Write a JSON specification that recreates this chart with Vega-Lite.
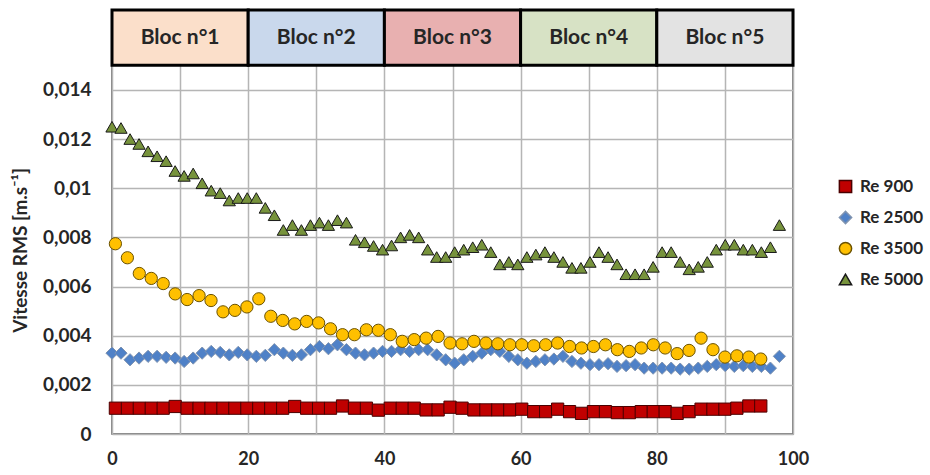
{
"$schema": "https://vega.github.io/schema/vega-lite/v6.json",
"width": 681,
"height": 424,
"autosize": {"type": "none"},
"padding": {"left": 112, "top": 10, "right": 137, "bottom": 41},
"background": "white",
"config": {"font": "Lato", "view": {"stroke": "#595959", "strokeWidth": 1.5}},
"datasets": {
"header": [
{"bloc": "Bloc n°1", "start": 0, "end": 20},
{"bloc": "Bloc n°2", "start": 20, "end": 40},
{"bloc": "Bloc n°3", "start": 40, "end": 60},
{"bloc": "Bloc n°4", "start": 60, "end": 80},
{"bloc": "Bloc n°5", "start": 80, "end": 100}
],
"points": [
{"s":"Re 5000","x":0,"y":0.0125},{"s":"Re 5000","x":1.32,"y":0.01245},{"s":"Re 5000","x":2.65,"y":0.0120},{"s":"Re 5000","x":3.97,"y":0.0118},{"s":"Re 5000","x":5.30,"y":0.0115},{"s":"Re 5000","x":6.62,"y":0.0113},{"s":"Re 5000","x":7.95,"y":0.0111},{"s":"Re 5000","x":9.27,"y":0.0107},{"s":"Re 5000","x":10.59,"y":0.0105},{"s":"Re 5000","x":11.92,"y":0.0106},{"s":"Re 5000","x":13.24,"y":0.0102},{"s":"Re 5000","x":14.57,"y":0.0099},{"s":"Re 5000","x":15.89,"y":0.0098},{"s":"Re 5000","x":17.22,"y":0.0095},{"s":"Re 5000","x":18.54,"y":0.0096},{"s":"Re 5000","x":19.86,"y":0.0096},{"s":"Re 5000","x":21.19,"y":0.0096},{"s":"Re 5000","x":22.51,"y":0.0092},{"s":"Re 5000","x":23.84,"y":0.0089},{"s":"Re 5000","x":25.16,"y":0.0083},{"s":"Re 5000","x":26.49,"y":0.0085},{"s":"Re 5000","x":27.81,"y":0.0083},{"s":"Re 5000","x":29.14,"y":0.0085},{"s":"Re 5000","x":30.46,"y":0.0086},{"s":"Re 5000","x":31.78,"y":0.0085},{"s":"Re 5000","x":33.11,"y":0.0087},{"s":"Re 5000","x":34.43,"y":0.0086},{"s":"Re 5000","x":35.76,"y":0.0079},{"s":"Re 5000","x":37.08,"y":0.0078},{"s":"Re 5000","x":38.41,"y":0.00765},{"s":"Re 5000","x":39.73,"y":0.0075},{"s":"Re 5000","x":41.05,"y":0.00767},{"s":"Re 5000","x":42.38,"y":0.0080},{"s":"Re 5000","x":43.70,"y":0.0081},{"s":"Re 5000","x":45.03,"y":0.0080},{"s":"Re 5000","x":46.35,"y":0.0075},{"s":"Re 5000","x":47.68,"y":0.0072},{"s":"Re 5000","x":49.00,"y":0.0072},{"s":"Re 5000","x":50.32,"y":0.0074},{"s":"Re 5000","x":51.65,"y":0.0075},{"s":"Re 5000","x":52.97,"y":0.0076},{"s":"Re 5000","x":54.30,"y":0.0077},{"s":"Re 5000","x":55.62,"y":0.0074},{"s":"Re 5000","x":56.95,"y":0.0069},{"s":"Re 5000","x":58.27,"y":0.0070},{"s":"Re 5000","x":59.59,"y":0.0069},{"s":"Re 5000","x":60.92,"y":0.0072},{"s":"Re 5000","x":62.24,"y":0.0073},{"s":"Re 5000","x":63.57,"y":0.0074},{"s":"Re 5000","x":64.89,"y":0.0072},{"s":"Re 5000","x":66.22,"y":0.0070},{"s":"Re 5000","x":67.54,"y":0.00676},{"s":"Re 5000","x":68.86,"y":0.00676},{"s":"Re 5000","x":70.19,"y":0.0070},{"s":"Re 5000","x":71.51,"y":0.0074},{"s":"Re 5000","x":72.84,"y":0.0072},{"s":"Re 5000","x":74.16,"y":0.0069},{"s":"Re 5000","x":75.49,"y":0.0065},{"s":"Re 5000","x":76.81,"y":0.0065},{"s":"Re 5000","x":78.14,"y":0.0065},{"s":"Re 5000","x":79.46,"y":0.0068},{"s":"Re 5000","x":80.78,"y":0.0074},{"s":"Re 5000","x":82.11,"y":0.0074},{"s":"Re 5000","x":83.43,"y":0.0070},{"s":"Re 5000","x":84.76,"y":0.0067},{"s":"Re 5000","x":86.08,"y":0.0068},{"s":"Re 5000","x":87.41,"y":0.0070},{"s":"Re 5000","x":88.73,"y":0.0075},{"s":"Re 5000","x":90.05,"y":0.0077},{"s":"Re 5000","x":91.38,"y":0.0077},{"s":"Re 5000","x":92.70,"y":0.0075},{"s":"Re 5000","x":94.03,"y":0.0075},{"s":"Re 5000","x":95.35,"y":0.0074},{"s":"Re 5000","x":96.68,"y":0.0076},{"s":"Re 5000","x":98.00,"y":0.0085},
{"s":"Re 2500","x":0,"y":0.00329},{"s":"Re 2500","x":1.32,"y":0.00329},{"s":"Re 2500","x":2.65,"y":0.00302},{"s":"Re 2500","x":3.97,"y":0.00309},{"s":"Re 2500","x":5.30,"y":0.00316},{"s":"Re 2500","x":6.62,"y":0.00316},{"s":"Re 2500","x":7.95,"y":0.00312},{"s":"Re 2500","x":9.27,"y":0.00309},{"s":"Re 2500","x":10.59,"y":0.00295},{"s":"Re 2500","x":11.92,"y":0.00309},{"s":"Re 2500","x":13.24,"y":0.00329},{"s":"Re 2500","x":14.57,"y":0.00336},{"s":"Re 2500","x":15.89,"y":0.00332},{"s":"Re 2500","x":17.22,"y":0.00322},{"s":"Re 2500","x":18.54,"y":0.00332},{"s":"Re 2500","x":19.86,"y":0.00322},{"s":"Re 2500","x":21.19,"y":0.00316},{"s":"Re 2500","x":22.51,"y":0.0032},{"s":"Re 2500","x":23.84,"y":0.00343},{"s":"Re 2500","x":25.16,"y":0.00329},{"s":"Re 2500","x":26.49,"y":0.0032},{"s":"Re 2500","x":27.81,"y":0.00322},{"s":"Re 2500","x":29.14,"y":0.00343},{"s":"Re 2500","x":30.46,"y":0.00356},{"s":"Re 2500","x":31.78,"y":0.00347},{"s":"Re 2500","x":33.11,"y":0.00363},{"s":"Re 2500","x":34.43,"y":0.00343},{"s":"Re 2500","x":35.76,"y":0.00329},{"s":"Re 2500","x":37.08,"y":0.00322},{"s":"Re 2500","x":38.41,"y":0.00329},{"s":"Re 2500","x":39.73,"y":0.00336},{"s":"Re 2500","x":41.05,"y":0.00336},{"s":"Re 2500","x":42.38,"y":0.00343},{"s":"Re 2500","x":43.70,"y":0.00336},{"s":"Re 2500","x":45.03,"y":0.00343},{"s":"Re 2500","x":46.35,"y":0.00343},{"s":"Re 2500","x":47.68,"y":0.00322},{"s":"Re 2500","x":49.00,"y":0.00302},{"s":"Re 2500","x":50.32,"y":0.00288},{"s":"Re 2500","x":51.65,"y":0.00302},{"s":"Re 2500","x":52.97,"y":0.00316},{"s":"Re 2500","x":54.30,"y":0.00329},{"s":"Re 2500","x":55.62,"y":0.00343},{"s":"Re 2500","x":56.95,"y":0.00336},{"s":"Re 2500","x":58.27,"y":0.00316},{"s":"Re 2500","x":59.59,"y":0.00302},{"s":"Re 2500","x":60.92,"y":0.00288},{"s":"Re 2500","x":62.24,"y":0.00295},{"s":"Re 2500","x":63.57,"y":0.00302},{"s":"Re 2500","x":64.89,"y":0.00305},{"s":"Re 2500","x":66.22,"y":0.00316},{"s":"Re 2500","x":67.54,"y":0.00295},{"s":"Re 2500","x":68.86,"y":0.00288},{"s":"Re 2500","x":70.19,"y":0.00282},{"s":"Re 2500","x":71.51,"y":0.00282},{"s":"Re 2500","x":72.84,"y":0.00286},{"s":"Re 2500","x":74.16,"y":0.00275},{"s":"Re 2500","x":75.49,"y":0.00278},{"s":"Re 2500","x":76.81,"y":0.00282},{"s":"Re 2500","x":78.14,"y":0.00268},{"s":"Re 2500","x":79.46,"y":0.00268},{"s":"Re 2500","x":80.78,"y":0.00268},{"s":"Re 2500","x":82.11,"y":0.00268},{"s":"Re 2500","x":83.43,"y":0.00264},{"s":"Re 2500","x":84.76,"y":0.00264},{"s":"Re 2500","x":86.08,"y":0.00268},{"s":"Re 2500","x":87.41,"y":0.00275},{"s":"Re 2500","x":88.73,"y":0.00282},{"s":"Re 2500","x":90.05,"y":0.00278},{"s":"Re 2500","x":91.38,"y":0.00275},{"s":"Re 2500","x":92.70,"y":0.00278},{"s":"Re 2500","x":94.03,"y":0.00275},{"s":"Re 2500","x":95.35,"y":0.00275},{"s":"Re 2500","x":96.68,"y":0.00268},{"s":"Re 2500","x":98.00,"y":0.00316},
{"s":"Re 3500","x":0.5,"y":0.00774},{"s":"Re 3500","x":2.26,"y":0.00717},{"s":"Re 3500","x":4.01,"y":0.00653},{"s":"Re 3500","x":5.77,"y":0.00633},{"s":"Re 3500","x":7.52,"y":0.00612},{"s":"Re 3500","x":9.28,"y":0.0057},{"s":"Re 3500","x":11.03,"y":0.00547},{"s":"Re 3500","x":12.79,"y":0.00563},{"s":"Re 3500","x":14.54,"y":0.00543},{"s":"Re 3500","x":16.3,"y":0.00497},{"s":"Re 3500","x":18.05,"y":0.00503},{"s":"Re 3500","x":19.81,"y":0.00517},{"s":"Re 3500","x":21.56,"y":0.0055},{"s":"Re 3500","x":23.32,"y":0.00479},{"s":"Re 3500","x":25.07,"y":0.00462},{"s":"Re 3500","x":26.83,"y":0.00448},{"s":"Re 3500","x":28.58,"y":0.00458},{"s":"Re 3500","x":30.34,"y":0.00452},{"s":"Re 3500","x":32.09,"y":0.00428},{"s":"Re 3500","x":33.85,"y":0.00404},{"s":"Re 3500","x":35.6,"y":0.00404},{"s":"Re 3500","x":37.36,"y":0.00424},{"s":"Re 3500","x":39.11,"y":0.00422},{"s":"Re 3500","x":40.87,"y":0.00404},{"s":"Re 3500","x":42.62,"y":0.00377},{"s":"Re 3500","x":44.38,"y":0.00384},{"s":"Re 3500","x":46.13,"y":0.0039},{"s":"Re 3500","x":47.89,"y":0.00397},{"s":"Re 3500","x":49.64,"y":0.0037},{"s":"Re 3500","x":51.4,"y":0.00367},{"s":"Re 3500","x":53.15,"y":0.00377},{"s":"Re 3500","x":54.91,"y":0.0037},{"s":"Re 3500","x":56.66,"y":0.00367},{"s":"Re 3500","x":58.42,"y":0.00363},{"s":"Re 3500","x":60.17,"y":0.00363},{"s":"Re 3500","x":61.93,"y":0.00359},{"s":"Re 3500","x":63.68,"y":0.00363},{"s":"Re 3500","x":65.44,"y":0.0037},{"s":"Re 3500","x":67.19,"y":0.00356},{"s":"Re 3500","x":68.95,"y":0.0035},{"s":"Re 3500","x":70.7,"y":0.00356},{"s":"Re 3500","x":72.46,"y":0.00363},{"s":"Re 3500","x":74.21,"y":0.00343},{"s":"Re 3500","x":75.97,"y":0.00336},{"s":"Re 3500","x":77.72,"y":0.0035},{"s":"Re 3500","x":79.48,"y":0.00363},{"s":"Re 3500","x":81.23,"y":0.0035},{"s":"Re 3500","x":82.99,"y":0.00327},{"s":"Re 3500","x":84.74,"y":0.0034},{"s":"Re 3500","x":86.5,"y":0.0039},{"s":"Re 3500","x":88.25,"y":0.00343},{"s":"Re 3500","x":90.01,"y":0.00313},{"s":"Re 3500","x":91.76,"y":0.00318},{"s":"Re 3500","x":93.52,"y":0.00313},{"s":"Re 3500","x":95.27,"y":0.00305},
{"s":"Re 900","x":0.5,"y":0.00105},{"s":"Re 900","x":2.26,"y":0.00105},{"s":"Re 900","x":4.01,"y":0.00105},{"s":"Re 900","x":5.77,"y":0.00105},{"s":"Re 900","x":7.52,"y":0.00105},{"s":"Re 900","x":9.28,"y":0.00112},{"s":"Re 900","x":11.03,"y":0.00105},{"s":"Re 900","x":12.79,"y":0.00105},{"s":"Re 900","x":14.54,"y":0.00105},{"s":"Re 900","x":16.3,"y":0.00105},{"s":"Re 900","x":18.05,"y":0.00105},{"s":"Re 900","x":19.81,"y":0.00105},{"s":"Re 900","x":21.56,"y":0.00105},{"s":"Re 900","x":23.32,"y":0.00105},{"s":"Re 900","x":25.07,"y":0.00105},{"s":"Re 900","x":26.83,"y":0.00112},{"s":"Re 900","x":28.58,"y":0.00105},{"s":"Re 900","x":30.34,"y":0.00105},{"s":"Re 900","x":32.09,"y":0.00105},{"s":"Re 900","x":33.85,"y":0.00114},{"s":"Re 900","x":35.6,"y":0.00105},{"s":"Re 900","x":37.36,"y":0.00105},{"s":"Re 900","x":39.11,"y":0.00097},{"s":"Re 900","x":40.87,"y":0.00105},{"s":"Re 900","x":42.62,"y":0.00105},{"s":"Re 900","x":44.38,"y":0.00105},{"s":"Re 900","x":46.13,"y":0.00098},{"s":"Re 900","x":47.89,"y":0.00098},{"s":"Re 900","x":49.64,"y":0.00109},{"s":"Re 900","x":51.4,"y":0.00105},{"s":"Re 900","x":53.15,"y":0.00098},{"s":"Re 900","x":54.91,"y":0.00098},{"s":"Re 900","x":56.66,"y":0.00098},{"s":"Re 900","x":58.42,"y":0.00098},{"s":"Re 900","x":60.17,"y":0.00101},{"s":"Re 900","x":61.93,"y":0.00091},{"s":"Re 900","x":63.68,"y":0.00091},{"s":"Re 900","x":65.44,"y":0.00101},{"s":"Re 900","x":67.19,"y":0.00091},{"s":"Re 900","x":68.95,"y":0.00084},{"s":"Re 900","x":70.7,"y":0.00091},{"s":"Re 900","x":72.46,"y":0.00091},{"s":"Re 900","x":74.21,"y":0.00087},{"s":"Re 900","x":75.97,"y":0.00087},{"s":"Re 900","x":77.72,"y":0.00091},{"s":"Re 900","x":79.48,"y":0.00091},{"s":"Re 900","x":81.23,"y":0.00091},{"s":"Re 900","x":82.99,"y":0.00084},{"s":"Re 900","x":84.74,"y":0.00091},{"s":"Re 900","x":86.5,"y":0.00101},{"s":"Re 900","x":88.25,"y":0.00101},{"s":"Re 900","x":90.01,"y":0.00101},{"s":"Re 900","x":91.76,"y":0.00105},{"s":"Re 900","x":93.52,"y":0.00114},{"s":"Re 900","x":95.27,"y":0.00114}
]
},
"layer": [
{
"data": {"name": "header"},
"mark": {"type": "rect", "stroke": "black", "strokeWidth": 3},
"encoding": {
"x": {"field": "start", "type": "quantitative", "scale": {"domain": [0, 100], "nice": false}},
"x2": {"field": "end"},
"y": {"datum": 0.015, "type": "quantitative", "scale": {"domain": [0, 0.01725], "nice": false}},
"y2": {"datum": 0.01725},
"color": {"field": "bloc", "type": "nominal", "legend": null,
"scale": {"domain": ["Bloc n°1", "Bloc n°2", "Bloc n°3", "Bloc n°4", "Bloc n°5"],
"range": ["#fbdfca", "#c9d8ec", "#e8b0b0", "#d7e2c5", "#e3e3e3"]}}
}
},
{
"data": {"name": "header"},
"transform": [{"calculate": "(datum.start + datum.end) / 2", "as": "mid"}],
"mark": {"type": "text", "fontWeight": "bold", "fontSize": 21, "color": "#262626"},
"encoding": {
"x": {"field": "mid", "type": "quantitative"},
"y": {"datum": 0.016125, "type": "quantitative"},
"text": {"field": "bloc"}
}
},
{
"data": {"name": "points"},
"mark": {"type": "point", "size": 150, "opacity": 1, "fillOpacity": 1, "strokeWidth": 1},
"encoding": {
"x": {"field": "x", "type": "quantitative",
"axis": {"title": null, "values": [0,10,20,30,40,50,60,70,80,90,100], "labelExpr": "datum.value % 20 === 0 ? datum.label : ''",
"grid": true, "gridColor": "#b5b5b5", "gridWidth": 1.5, "domain": false, "ticks": false, "tickSize": 0, "labelFlush": false,
"labelPadding": 16, "labelFontSize": 18, "labelFontWeight": "bold", "labelColor": "#262626"}},
"y": {"field": "y", "type": "quantitative",
"axis": {"title": "Vitesse RMS [m.s⁻¹]", "values": [0,0.002,0.004,0.006,0.008,0.01,0.012,0.014], "format": ".3~f",
"labelExpr": "replace(datum.label, '.', ',')",
"grid": true, "gridColor": "#b5b5b5", "gridWidth": 1.5, "domain": false, "ticks": false, "tickSize": 0,
"labelPadding": 21, "labelFontSize": 19, "labelFontWeight": "bold", "labelColor": "#262626",
"titleFontSize": 19, "titleFontWeight": "bold", "titleColor": "#262626",
"titleX": -92, "titleY": 240, "titleAngle": -90, "titleAlign": "center", "titleBaseline": "middle"}},
"shape": {"field": "s", "type": "nominal",
"scale": {"domain": ["Re 900", "Re 2500", "Re 3500", "Re 5000"], "range": ["square", "diamond", "circle", "triangle-up"]},
"legend": {"title": null, "orient": "none", "legendX": 725, "legendY": 168, "padding": 0, "rowPadding": 12,
"labelFontSize": 17, "labelFontWeight": "bold", "labelColor": "#262626", "symbolSize": 150, "labelOffset": 6}},
"fill": {"field": "s", "type": "nominal",
"scale": {"domain": ["Re 900", "Re 2500", "Re 3500", "Re 5000"], "range": ["#c00000", "#4f81c7", "#ffc000", "#77933c"]},
"legend": {"title": null, "orient": "none", "legendX": 725, "legendY": 168, "padding": 0, "rowPadding": 12,
"labelFontSize": 17, "labelFontWeight": "bold", "labelColor": "#262626", "symbolSize": 150, "labelOffset": 6}},
"stroke": {"field": "s", "type": "nominal",
"scale": {"domain": ["Re 900", "Re 2500", "Re 3500", "Re 5000"], "range": ["#4a0000", "#7f93b0", "#6b5200", "#1a1a1a"]},
"legend": {"title": null, "orient": "none", "legendX": 725, "legendY": 168, "padding": 0, "rowPadding": 12,
"labelFontSize": 17, "labelFontWeight": "bold", "labelColor": "#262626", "symbolSize": 150, "labelOffset": 6}}
}
}
]
}
